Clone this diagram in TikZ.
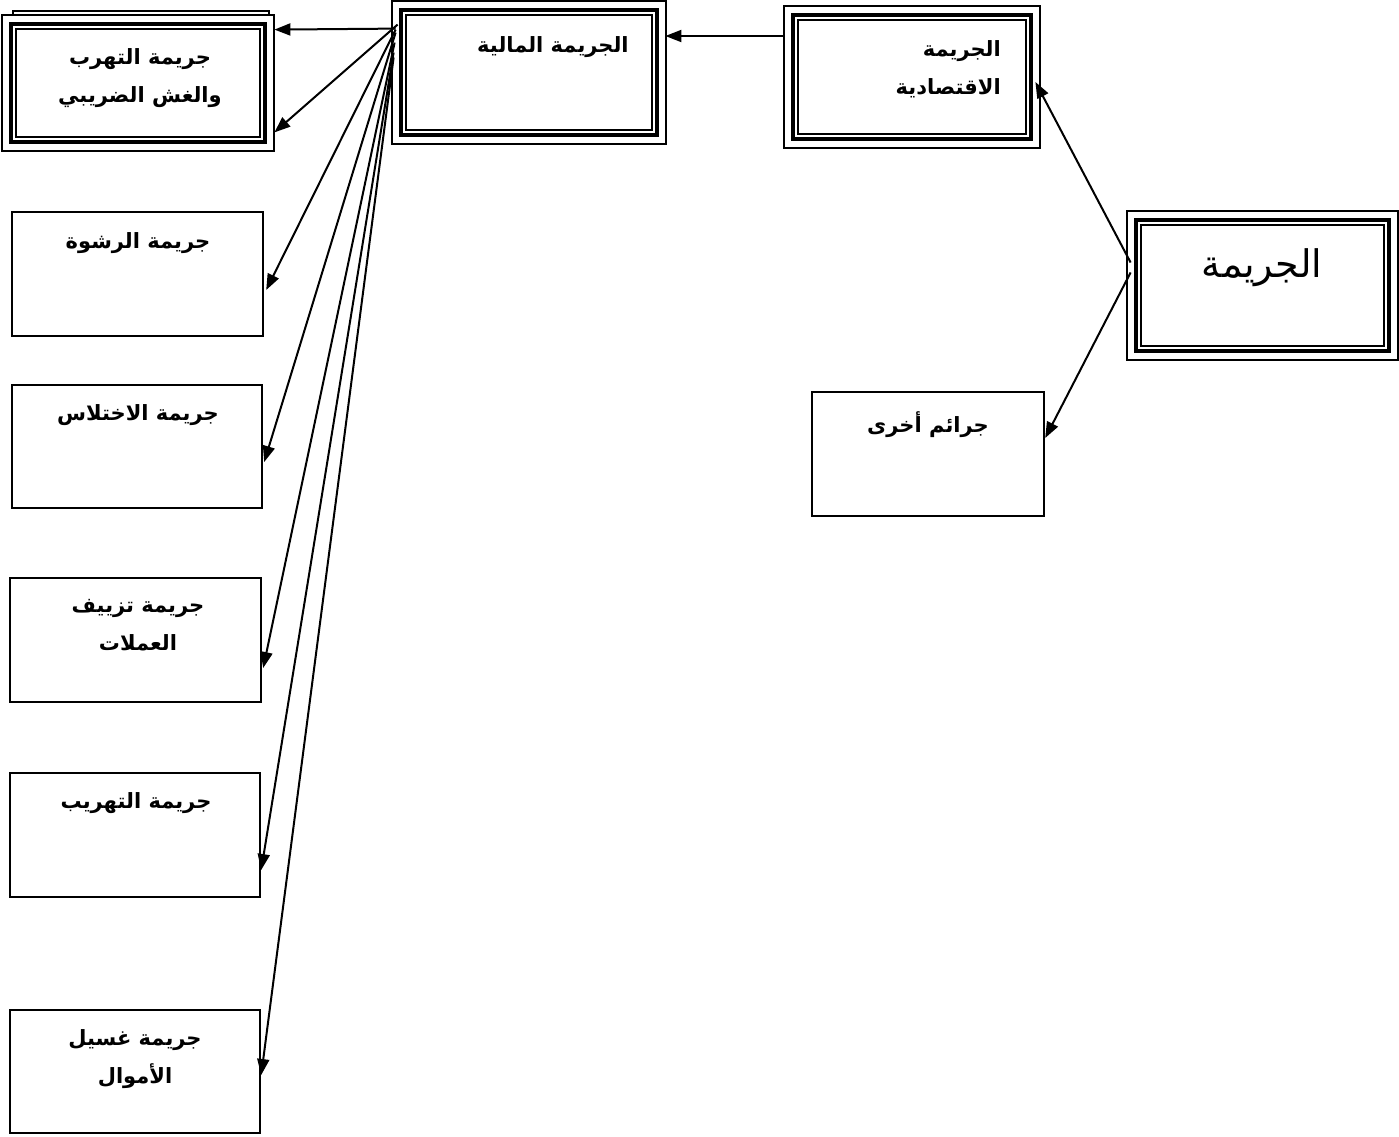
\documentclass[tikz,border=0pt]{standalone}
\usepackage{fontspec}
\newfontfamily\arabicfont[Script=Arabic]{DejaVu Sans}
\TeXXeTstate=1
\usetikzlibrary{calc,arrows.meta}

% rectangle node given by its corners (x1,y1)-(x2,y2)
\newcommand\boxat[6]{%
  \pgfmathsetmacro\boxW{#5-#3}\pgfmathsetmacro\boxH{#6-#4}%
  \node[#1, minimum width=\boxW pt, minimum height=\boxH pt] (#2) at ({(#3+#5)/2},{(#4+#6)/2}) {};}
% thin frames outside and inside a heavy box
\newcommand\triframe[1]{%
  \draw[frameline] ($(#1.north west)+(-6.5,-6.5)$) rectangle ($(#1.south east)+(6.5,6.5)$);
  \draw[frameline] ($(#1.north west)+(7,7)$) rectangle ($(#1.south east)+(-7,-7)$);}

\begin{document}
\begin{tikzpicture}[x=1pt,y=-1pt,
  plainbox/.style={draw, line width=2.4pt, inner sep=0pt},
  heavybox/.style={draw, line width=4.8pt, inner sep=0pt},
  frameline/.style={line width=2pt},
  boxtext/.style={font=\arabicfont\bfseries\fontsize{21}{38}\selectfont, align=center, inner sep=0pt},
  bigtext/.style={font=\arabicfont\fontsize{38}{44}\selectfont, inner sep=0pt},
  link/.style={line width=2pt, -{Triangle[length=16pt,width=12pt]}},
]
\useasboundingbox (0,0) rectangle (1399,1136);

% heavy framed boxes
\boxat{heavybox}{tax}{11}{24}{265}{142}
\boxat{heavybox}{fin}{401}{10}{657}{135}
\boxat{heavybox}{econ}{793}{15}{1031}{139}
\boxat{heavybox}{crime}{1136}{220}{1389}{351}
\triframe{tax}
\triframe{fin}
\triframe{econ}
\triframe{crime}
\draw[frameline] ($(tax.north west)+(4,-6.5)$) -- ($(tax.north west)+(4,-11)$)
  -- ($(tax.north east)+(2,-11)$) -- ($(tax.north east)+(2,-6.5)$);

% plain boxes
\boxat{plainbox}{bri}{12}{212}{263}{336}
\boxat{plainbox}{emb}{12}{385}{262}{508}
\boxat{plainbox}{cnt}{10}{578}{261}{702}
\boxat{plainbox}{smg}{10}{773}{260}{897}
\boxat{plainbox}{lnd}{10}{1010}{260}{1133}
\boxat{plainbox}{oth}{812}{392}{1044}{516}

% texts
\node[boxtext] (tax-t) at (140,78) {\beginR جريمة التهرب\endR\\\beginR والغش الضريبي\endR};
\node[boxtext] (fin-t) at (553,47) {\beginR الجريمة المالية\endR};
\node[boxtext, align=right, anchor=east] (econ-t) at (1001,69) {\beginR الجريمة\endR\\\beginR الاقتصادية\endR};
\node[bigtext] (crime-t) at (1262,268) {\beginR الجريمة\endR};
\node[boxtext] (oth-t) at (928,425) {\beginR جرائم أخرى\endR};
\node[boxtext] (bri-t) at (138,243) {\beginR جريمة الرشوة\endR};
\node[boxtext] (emb-t) at (138,415) {\beginR جريمة الاختلاس\endR};
\node[boxtext] (cnt-t) at (138,625) {\beginR جريمة تزييف\endR\\\beginR العملات\endR};
\node[boxtext] (smg-t) at (136,803) {\beginR جريمة التهريب\endR};
\node[boxtext] (lnd-t) at (135,1059) {\beginR جريمة غسيل\endR\\\beginR الأموال\endR};

% connectors
\draw[link] ($(econ.west)+(-6,-41)$) -- ($(fin.east)+(6,-36.5)$);
\draw[link] ($(crime.west)+(-3,-23)$) -- ($(econ.east)+(2,5)$);
\draw[link] ($(crime.west)+(-3,-13)$) -- ($(oth.east)+(0,-16)$);
\draw[link] ($(fin.north west)+(-3,21)$) -- ($(tax.north east)+(7,8)$);
\draw[link] ($(fin.north west)+(-1,17)$) -- ($(tax.south east)+(7,-12)$);
\draw[link] ($(fin.north west)+(-3,22)$) -- ($(bri.east)+(2,16)$);
\draw[link] ($(fin.north west)+(-3,25)$) -- ($(emb.east)+(1,15.5)$);
\draw[link] ($(fin.north west)+(-4,35)$) -- ($(cnt.east)+(1,28)$);
\draw[link] ($(fin.north west)+(-5,45)$) -- ($(smg.east)+(0,35)$);
\draw[link] ($(fin.north west)+(-5,50)$) -- ($(lnd.east)+(0,3.5)$);
\end{tikzpicture}
\end{document}
